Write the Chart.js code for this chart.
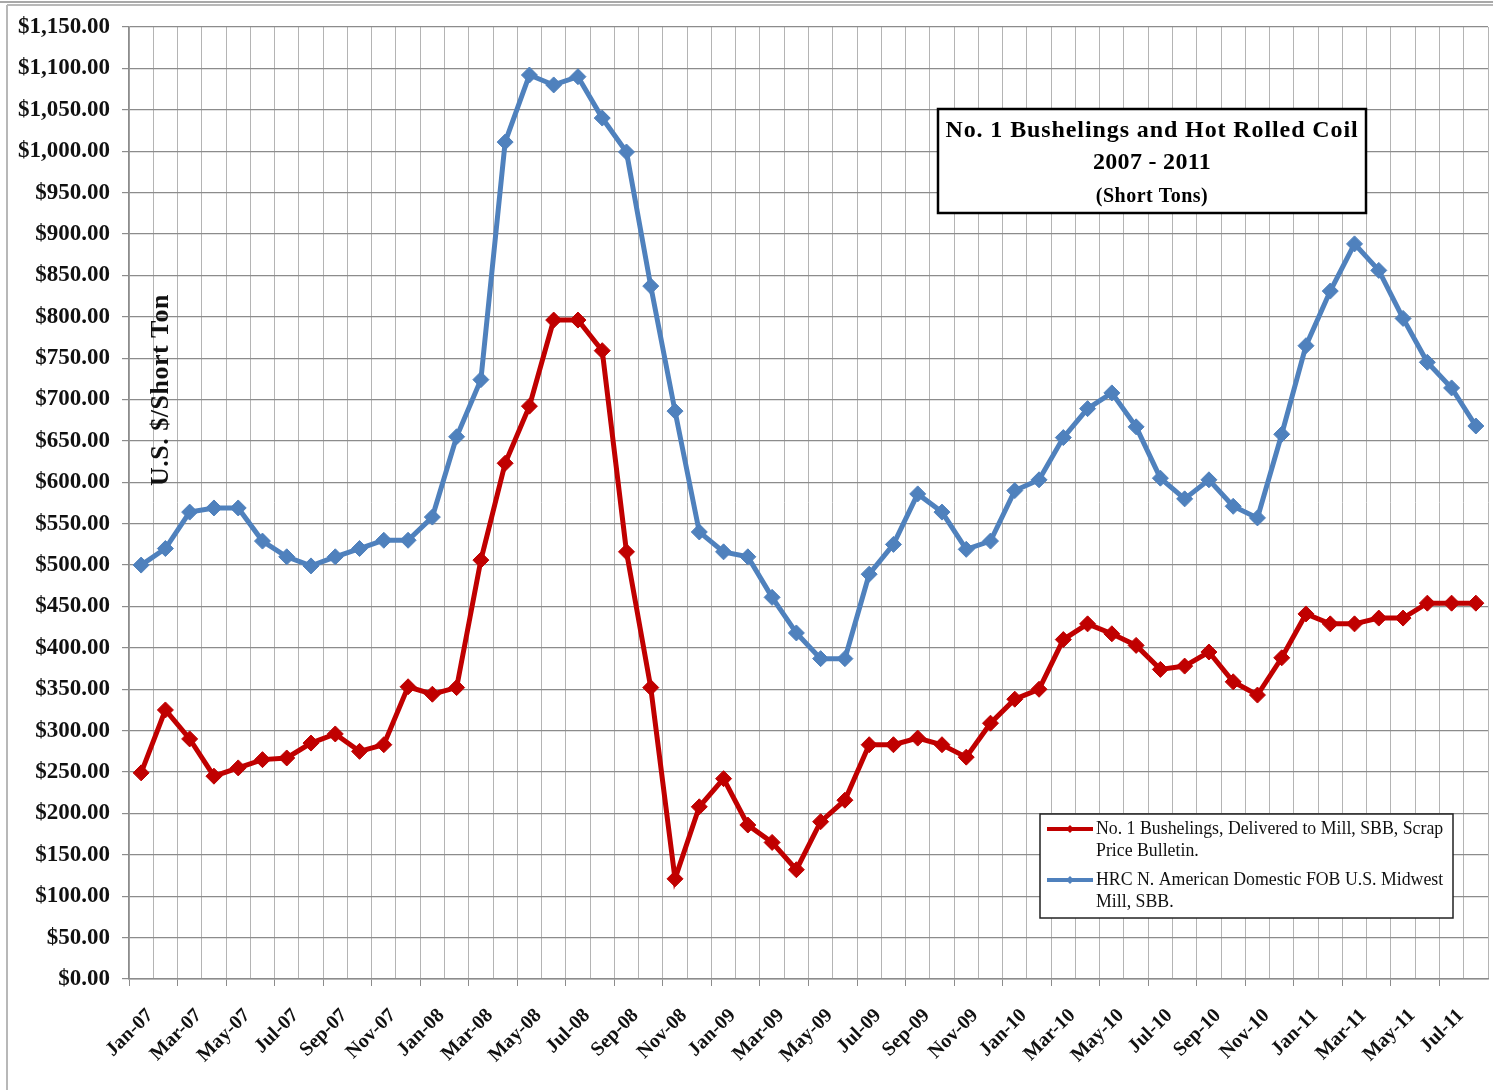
<!DOCTYPE html>
<html>
<head>
<meta charset="utf-8">
<script src="https://cdn.jsdelivr.net/npm/chart.js@4.4.1/dist/chart.umd.min.js"></script>
<style>
  html, body { margin: 0; padding: 0; background: #fff; }
  #wrap { width: 1493px; height: 1090px; position: relative; }
</style>
</head>
<body>
<div id="wrap"><canvas id="steelChart" width="1493" height="1090"></canvas></div>
<script>
// months, one point each
const months = [
  'Jan-07','Feb-07','Mar-07','Apr-07','May-07','Jun-07','Jul-07','Aug-07','Sep-07','Oct-07','Nov-07','Dec-07',
  'Jan-08','Feb-08','Mar-08','Apr-08','May-08','Jun-08','Jul-08','Aug-08','Sep-08','Oct-08','Nov-08','Dec-08',
  'Jan-09','Feb-09','Mar-09','Apr-09','May-09','Jun-09','Jul-09','Aug-09','Sep-09','Oct-09','Nov-09','Dec-09',
  'Jan-10','Feb-10','Mar-10','Apr-10','May-10','Jun-10','Jul-10','Aug-10','Sep-10','Oct-10','Nov-10','Dec-10',
  'Jan-11','Feb-11','Mar-11','Apr-11','May-11','Jun-11','Jul-11','Aug-11'
];

// No. 1 Bushelings ($/short ton)
const bushelings = [
  249, 325, 290, 245, 255, 265, 267, 285, 296, 275, 283, 353,
  344, 352, 506, 623, 692, 796, 796, 759, 516, 352, 121, 208,
  242, 186, 165, 132, 190, 216, 283, 283, 291, 283, 268, 309,
  338, 350, 410, 429, 417, 403, 374, 378, 395, 359, 343, 388,
  441, 429, 429, 436, 436, 454, 454, 454
];

// HRC N. American domestic ($/short ton)
const hrc = [
  500, 520, 564, 569, 569, 529, 510, 499, 510, 520, 530, 530,
  558, 655, 724, 1011, 1092, 1080, 1090, 1040, 999, 837, 686, 540,
  516, 510, 461, 418, 387, 387, 489, 525, 586, 564, 519, 529,
  590, 603, 654, 689, 708, 667, 605, 580, 603, 571, 557, 658,
  765, 831, 888, 856, 798, 745, 714, 668
];

const yMin = 0;
const yMax = 1150;
const yStep = 50;

const titleLines = ['No. 1 Bushelings and Hot Rolled Coil', '2007 - 2011', '(Short Tons)'];
const legendItems = [
  { color: '#c00000', lines: ['No. 1 Bushelings, Delivered to Mill, SBB, Scrap', 'Price Bulletin.'] },
  { color: '#4f81bd', lines: ['HRC N. American Domestic FOB U.S. Midwest', 'Mill, SBB.'] }
];

const SERIF = "'Liberation Serif', 'Times New Roman', serif";

function money(v) {
  return '$' + v.toLocaleString('en-US', { minimumFractionDigits: 2, maximumFractionDigits: 2 });
}

// frame, y title, title box and legend sit on top of the plot
const overlay = {
  id: 'overlay',
  beforeDraw(chart) {
    const ctx = chart.ctx;
    ctx.save();
    ctx.fillStyle = '#fff';
    ctx.fillRect(0, 0, chart.width, chart.height);
    ctx.strokeStyle = '#a8a8a8';
    ctx.lineWidth = 2;
    ctx.beginPath();
    ctx.moveTo(0, 2); ctx.lineTo(chart.width, 2);
    ctx.stroke();
    ctx.strokeStyle = '#b8b8b8';
    ctx.beginPath();
    ctx.moveTo(7, 5); ctx.lineTo(chart.width, 5);
    ctx.moveTo(7, 5); ctx.lineTo(7, chart.height);
    ctx.stroke();
    ctx.restore();
  },
  afterDraw(chart) {
    const ctx = chart.ctx;
    ctx.save();

    // y axis title, drawn inside the plot
    ctx.translate(161, 390);
    ctx.rotate(-Math.PI / 2);
    ctx.fillStyle = '#111';
    ctx.font = 'bold 26px ' + SERIF;
    ctx.letterSpacing = '0.5px';
    ctx.textAlign = 'center';
    ctx.textBaseline = 'middle';
    ctx.fillText('U.S. $/Short Ton', 0, 0);
    ctx.setTransform(1, 0, 0, 1, 0, 0);

    // title box
    ctx.fillStyle = '#fff';
    ctx.fillRect(938, 109, 428, 104);
    ctx.strokeStyle = '#000';
    ctx.lineWidth = 2.5;
    ctx.strokeRect(938, 109, 428, 104);
    ctx.fillStyle = '#000';
    ctx.textAlign = 'center';
    ctx.textBaseline = 'middle';
    ctx.font = 'bold 24px ' + SERIF;
    ctx.letterSpacing = '0.9px';
    ctx.fillText(titleLines[0], 1152, 131);
    ctx.letterSpacing = '0.3px';
    ctx.fillText(titleLines[1], 1152, 163);
    ctx.font = 'bold 20px ' + SERIF;
    ctx.letterSpacing = '0.5px';
    ctx.fillText(titleLines[2], 1152, 197);
    ctx.letterSpacing = '0px';

    // legend
    ctx.fillStyle = '#fff';
    ctx.fillRect(1040, 814, 413, 104);
    ctx.strokeStyle = '#222';
    ctx.lineWidth = 1.5;
    ctx.strokeRect(1040, 814, 413, 104);
    ctx.font = '17.8px ' + SERIF;
    ctx.textAlign = 'left';
    legendItems.forEach((item, k) => {
      const y0 = 829 + k * 51;
      ctx.strokeStyle = item.color;
      ctx.lineWidth = 4;
      ctx.beginPath();
      ctx.moveTo(1047, y0); ctx.lineTo(1093, y0);
      ctx.stroke();
      ctx.fillStyle = item.color;
      ctx.beginPath();
      ctx.moveTo(1070, y0 - 4); ctx.lineTo(1074, y0); ctx.lineTo(1070, y0 + 4); ctx.lineTo(1066, y0);
      ctx.closePath();
      ctx.fill();
      ctx.fillStyle = '#111';
      item.lines.forEach((t, j) => ctx.fillText(t, 1096, y0 + j * 22));
    });

    ctx.restore();
  }
};

const canvas = document.getElementById('steelChart');
new Chart(canvas.getContext('2d'), {
  type: 'line',
  data: {
    labels: months,
    datasets: [
      {
        label: 'No. 1 Bushelings, Delivered to Mill, SBB, Scrap Price Bulletin.',
        data: bushelings,
        borderColor: '#c00000',
        backgroundColor: '#c00000',
        borderWidth: 5,
        pointStyle: 'rectRot',
        pointRadius: 8,
        pointBorderWidth: 1,
        tension: 0
      },
      {
        label: 'HRC N. American Domestic FOB U.S. Midwest Mill, SBB.',
        data: hrc,
        borderColor: '#4f81bd',
        backgroundColor: '#4f81bd',
        borderWidth: 5,
        pointStyle: 'rectRot',
        pointRadius: 8,
        pointBorderWidth: 1,
        tension: 0
      }
    ]
  },
  options: {
    responsive: false,
    animation: false,
    layout: { autoPadding: false, padding: { left: 0, top: 27, right: 5, bottom: 0 } },
    plugins: {
      legend: { display: false },
      tooltip: { enabled: false }
    },
    scales: {
      x: {
        offset: true,
        afterFit: s => { s.height = 111; s.paddingRight = 0; s.paddingLeft = 0; },
        grid: {
          offset: true,
          color: '#b4b4b4',
          lineWidth: 1,
          tickLength: 7,
          tickColor: c => (c.index % 2 === 0 ? '#8c8c8c' : 'rgba(0,0,0,0)')
        },
        border: { color: '#8c8c8c', width: 1.5 },
        ticks: {
          autoSkip: false,
          minRotation: 45,
          maxRotation: 45,
          padding: 18,
          labelOffset: 9,
          color: '#111',
          font: { family: SERIF, size: 20, weight: 'bold' },
          callback: (v, i) => (i % 2 === 0 ? months[i] : '')
        }
      },
      y: {
        min: yMin,
        max: yMax,
        afterFit: s => { s.width = 129; },
        grid: { color: '#8c8c8c', lineWidth: 1.2, tickLength: 7 },
        border: { color: '#8c8c8c', width: 1.5 },
        ticks: {
          stepSize: yStep,
          padding: 12,
          color: '#111',
          font: { family: SERIF, size: 23, weight: 'bold' },
          callback: v => money(v)
        }
      }
    }
  },
  plugins: [overlay]
});
</script>
</body>
</html>
